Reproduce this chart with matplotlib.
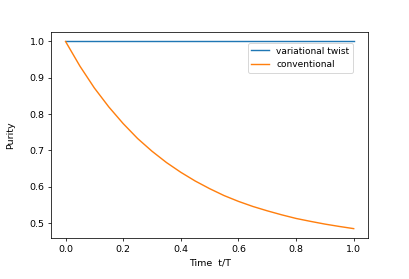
"""Purity vs time: variational twist against the conventional protocol."""

import matplotlib

matplotlib.use("Agg")
import matplotlib.pyplot as plt

# time grid (t/T) and purity readings
time = [0.00, 0.05, 0.10, 0.15, 0.20, 0.25, 0.30, 0.35, 0.40, 0.45, 0.50,
        0.55, 0.60, 0.65, 0.70, 0.75, 0.80, 0.85, 0.90, 0.95, 1.00]
purity_twist = [1.0] * len(time)
purity_conventional = [1.000, 0.932, 0.872, 0.820, 0.774, 0.733, 0.698, 0.667,
                       0.640, 0.616, 0.595, 0.576, 0.560, 0.546, 0.534, 0.523,
                       0.513, 0.505, 0.4975, 0.491, 0.485]

fig, ax = plt.subplots(figsize=(409 / 68, 279 / 68), dpi=68)
fig.subplots_adjust(left=0.125, right=0.9, top=0.885, bottom=0.147)

ax.plot(time, purity_twist, label="variational twist")
ax.plot(time, purity_conventional, label="conventional")
ax.set_xlabel("Time  t/T", labelpad=5)
ax.set_ylabel("Purity", labelpad=15)
ax.legend(loc="upper right", bbox_to_anchor=(0.953, 0.947), borderaxespad=0,
          fontsize=9.5)

fig.savefig("out.png", dpi=68)
